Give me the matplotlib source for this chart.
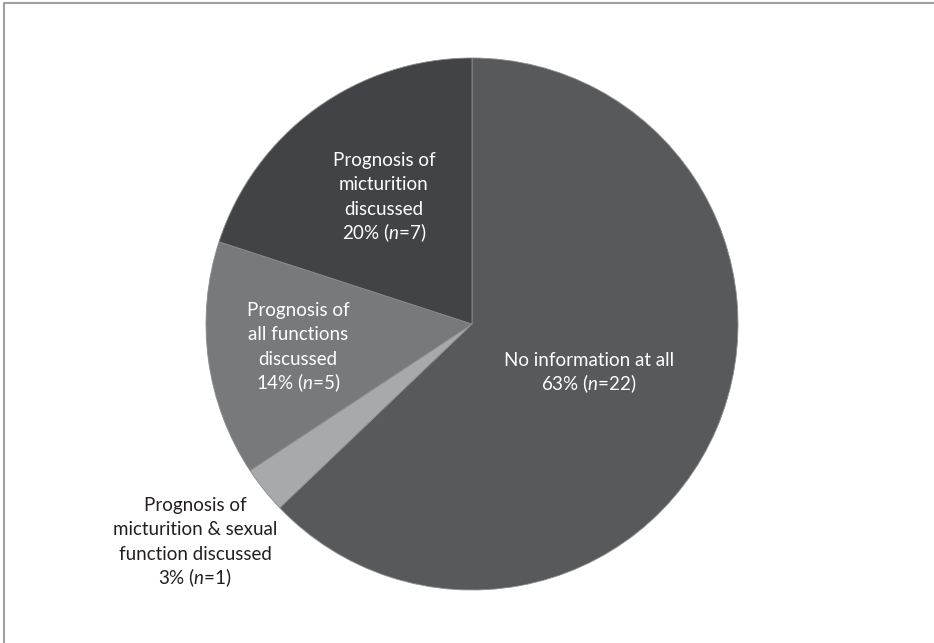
import matplotlib
matplotlib.use("Agg")
import matplotlib.pyplot as plt
from matplotlib.lines import Line2D

categories = ["No information at all",
              "Prognosis of micturition & sexual function discussed",
              "Prognosis of all functions discussed",
              "Prognosis of micturition discussed"]
counts = [22, 1, 5, 7]
percents = [63, 3, 14, 20]
label_lines = [["No information at all"],
               ["Prognosis of", "micturition & sexual", "function discussed"],
               ["Prognosis of", "all functions", "discussed"],
               ["Prognosis of", "micturition", "discussed"]]
colors = ["#58595b", "#a7a9ab", "#77797b", "#414346"]
text_colors = ["white", "#231f20", "white", "white"]
label_pos = [(0.44, -0.179), (-1.041, -0.816), (-0.654, -0.083), (-0.331, 0.481)]

FONT = 'Lato'
plt.rcParams['font.family'] = [FONT, 'DejaVu Sans']
plt.rcParams['mathtext.fontset'] = 'custom'
plt.rcParams['mathtext.rm'] = FONT
plt.rcParams['mathtext.it'] = FONT + ':italic'

W, H = 934, 643
fig = plt.figure(figsize=(W / 100, H / 100), dpi=100)
cx, cy, r = 472, 324, 266
ax = fig.add_axes([(cx - r) / W, (H - cy - r) / H, 2 * r / W, 2 * r / H])
ax.pie(counts, colors=colors, startangle=90, counterclock=False, radius=1,
       wedgeprops=dict(edgecolor="#8a8c8e", linewidth=0.6))
ax.set_xlim(-1, 1)
ax.set_ylim(-1, 1)
ax.set_aspect("equal")
ax.axis("off")

step = 24.7 / r       # line spacing in data units
base_off = 6.5 / r    # line centre -> baseline
for lines, p, n, (x, y), tc in zip(label_lines, percents, counts, label_pos, text_colors):
    all_lines = lines + [f"{p}% ($\\mathit{{n}}$={n})"]
    k = len(all_lines)
    for i, s in enumerate(all_lines):
        yy = y + ((k - 1) / 2 - i) * step - base_off
        ax.text(x, yy, s, ha="center", va="baseline", color=tc, fontsize=13.5)

# partial frame (top and left)
fig.add_artist(Line2D([3.5 / W, 3.5 / W, 1.0], [0.0, 1 - 2.5 / H, 1 - 2.5 / H],
                      transform=fig.transFigure, color="#a0a0a0", linewidth=1.5))

fig.savefig("out.png", dpi=100)
